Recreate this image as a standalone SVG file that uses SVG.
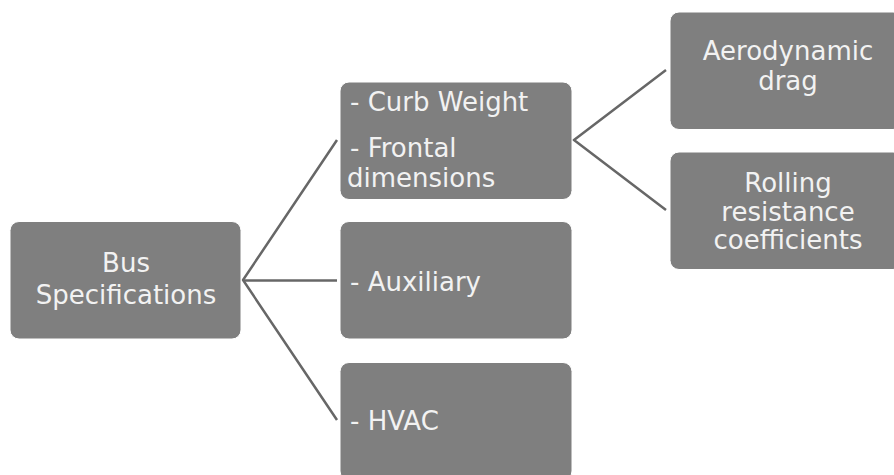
<svg xmlns="http://www.w3.org/2000/svg" width="894" height="475" viewBox="0 0 894 475">
<style>
.box{fill:#7f7f7f;stroke:#ffffff;stroke-width:1}
.t{font-family:"DejaVu Sans","Liberation Sans",sans-serif;font-size:26px;fill:#f2f2f2}
.c{text-anchor:middle}
.conn{stroke:#676767;stroke-width:2.5;fill:none}
</style>
<rect width="894" height="475" fill="#ffffff"/>
<g id="connectors">
<polyline class="conn" points="337,140 243,280 337,420"/>
<line class="conn" x1="243" y1="280.5" x2="337" y2="280.5"/>
<polyline class="conn" points="666,70 574,140 666,210"/>
</g>
<g id="bus">
<rect class="box" x="10" y="221.5" width="231" height="117.5" rx="9"/>
<text class="t c" x="126" y="272">Bus</text>
<text class="t c" x="126" y="304">Specifications</text>
</g>
<g id="curb">
<rect class="box" x="340" y="82" width="232" height="117.5" rx="9"/>
<text class="t" x="350" y="111">- Curb Weight</text>
<text class="t" x="350" y="157">- Frontal</text>
<text class="t" x="347" y="187">dimensions</text>
</g>
<g id="aux">
<rect class="box" x="340" y="221.5" width="232" height="117.5" rx="9"/>
<text class="t" x="350" y="291">- Auxiliary</text>
</g>
<g id="hvac">
<rect class="box" x="340" y="362.5" width="232" height="117.5" rx="9"/>
<text class="t" x="350" y="430">- HVAC</text>
</g>
<g id="aero">
<rect class="box" x="670" y="12" width="232" height="117.5" rx="9"/>
<text class="t c" x="788" y="60">Aerodynamic</text>
<text class="t c" x="788" y="90">drag</text>
</g>
<g id="rolling">
<rect class="box" x="670" y="152" width="232" height="117.5" rx="9"/>
<text class="t c" x="788" y="192">Rolling</text>
<text class="t c" x="788" y="221">resistance</text>
<text class="t c" x="788" y="249">coefficients</text>
</g>
</svg>
